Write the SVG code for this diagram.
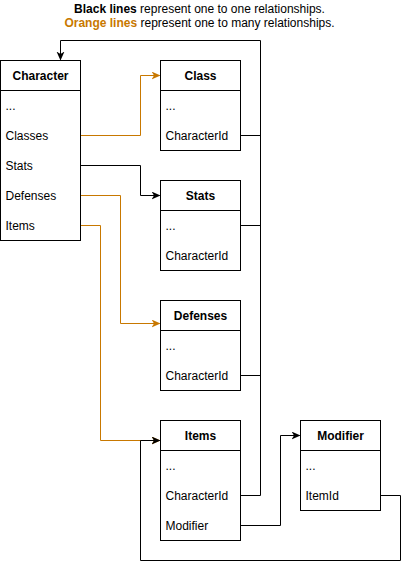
<svg xmlns="http://www.w3.org/2000/svg" width="409" height="569" viewBox="0 0 409 569">
<style>
text{font-family:"Liberation Sans",Arial,sans-serif;font-size:12px;fill:#000}
.h{font-weight:bold;text-anchor:middle}
.box{fill:#fff;stroke:#000;stroke-width:1}
.k{fill:none;stroke:#000;stroke-width:1}
.o{fill:none;stroke:#C87800;stroke-width:1}
.ka{marker-end:url(#ak)}
.oa{marker-end:url(#ao)}
</style>
<defs>
<marker id="ak" markerWidth="10" markerHeight="10" refX="8" refY="4" orient="auto" markerUnits="userSpaceOnUse">
<path d="M0,0 L9,4 L0,8 L2.5,4 Z" fill="#000"/>
</marker>
<marker id="ao" markerWidth="10" markerHeight="10" refX="8" refY="4" orient="auto" markerUnits="userSpaceOnUse">
<path d="M0,0 L9,4 L0,8 L2.5,4 Z" fill="#C87800"/>
</marker>
</defs>
<g id="legend">
<text x="199.5" y="12.5" text-anchor="middle"><tspan font-weight="bold">Black lines</tspan> represent one to one relationships.</text>
<text x="199.5" y="26.5" text-anchor="middle"><tspan font-weight="bold" fill="#C87800">Orange lines</tspan> represent one to many relationships.</text>
</g>
<g id="connectors">
<polyline class="o oa" points="80.5,135.5 140.5,135.5 140.5,75.5 159.5,75.5"/>
<polyline class="k ka" points="80.5,165.5 140.5,165.5 140.5,195.5 159.5,195.5"/>
<polyline class="o oa" points="80.5,195.5 120.5,195.5 120.5,323.5 159.5,323.5"/>
<polyline class="o oa" points="80.5,225.5 100.5,225.5 100.5,440.5 159.5,440.5"/>
<polyline class="k ka" points="380.5,495.5 400.5,495.5 400.5,560.5 140.5,560.5 140.5,440.5 159.5,440.5"/>
<polyline class="k ka" points="240.5,525.5 280.5,525.5 280.5,435.5 299.5,435.5"/>
<polyline class="k ka" points="240.5,495.5 260.5,495.5 260.5,40.5 60.5,40.5 60.5,59.5"/>
<line class="k" x1="240.5" y1="135.5" x2="260.5" y2="135.5"/>
<line class="k" x1="240.5" y1="225.5" x2="260.5" y2="225.5"/>
<line class="k" x1="240.5" y1="375.5" x2="260.5" y2="375.5"/>
</g>
<g id="character">
<rect class="box" x="0.5" y="60.5" width="80" height="180"/>
<line class="k" x1="0.5" y1="90.5" x2="80.5" y2="90.5"/>
<text class="h" x="40.5" y="79.5">Character</text>
<text x="5.5" y="109.5">...</text>
<text x="5.5" y="139.5">Classes</text>
<text x="5.5" y="169.5">Stats</text>
<text x="5.5" y="199.5">Defenses</text>
<text x="5.5" y="229.5">Items</text>
</g>
<g id="class">
<rect class="box" x="160.5" y="60.5" width="80" height="90"/>
<line class="k" x1="160.5" y1="90.5" x2="240.5" y2="90.5"/>
<text class="h" x="200.5" y="79.5">Class</text>
<text x="165.5" y="109.5">...</text>
<text x="165.5" y="139.5">CharacterId</text>
</g>
<g id="stats">
<rect class="box" x="160.5" y="180.5" width="80" height="90"/>
<line class="k" x1="160.5" y1="210.5" x2="240.5" y2="210.5"/>
<text class="h" x="200.5" y="199.5">Stats</text>
<text x="165.5" y="229.5">...</text>
<text x="165.5" y="259.5">CharacterId</text>
</g>
<g id="defenses">
<rect class="box" x="160.5" y="300.5" width="80" height="90"/>
<line class="k" x1="160.5" y1="330.5" x2="240.5" y2="330.5"/>
<text class="h" x="200.5" y="319.5">Defenses</text>
<text x="165.5" y="349.5">...</text>
<text x="165.5" y="379.5">CharacterId</text>
</g>
<g id="items">
<rect class="box" x="160.5" y="420.5" width="80" height="120"/>
<line class="k" x1="160.5" y1="450.5" x2="240.5" y2="450.5"/>
<text class="h" x="200.5" y="439.5">Items</text>
<text x="165.5" y="469.5">...</text>
<text x="165.5" y="499.5">CharacterId</text>
<text x="165.5" y="529.5">Modifier</text>
</g>
<g id="modifier">
<rect class="box" x="300.5" y="420.5" width="80" height="90"/>
<line class="k" x1="300.5" y1="450.5" x2="380.5" y2="450.5"/>
<text class="h" x="340.5" y="439.5">Modifier</text>
<text x="305.5" y="469.5">...</text>
<text x="305.5" y="499.5">ItemId</text>
</g>
</svg>
